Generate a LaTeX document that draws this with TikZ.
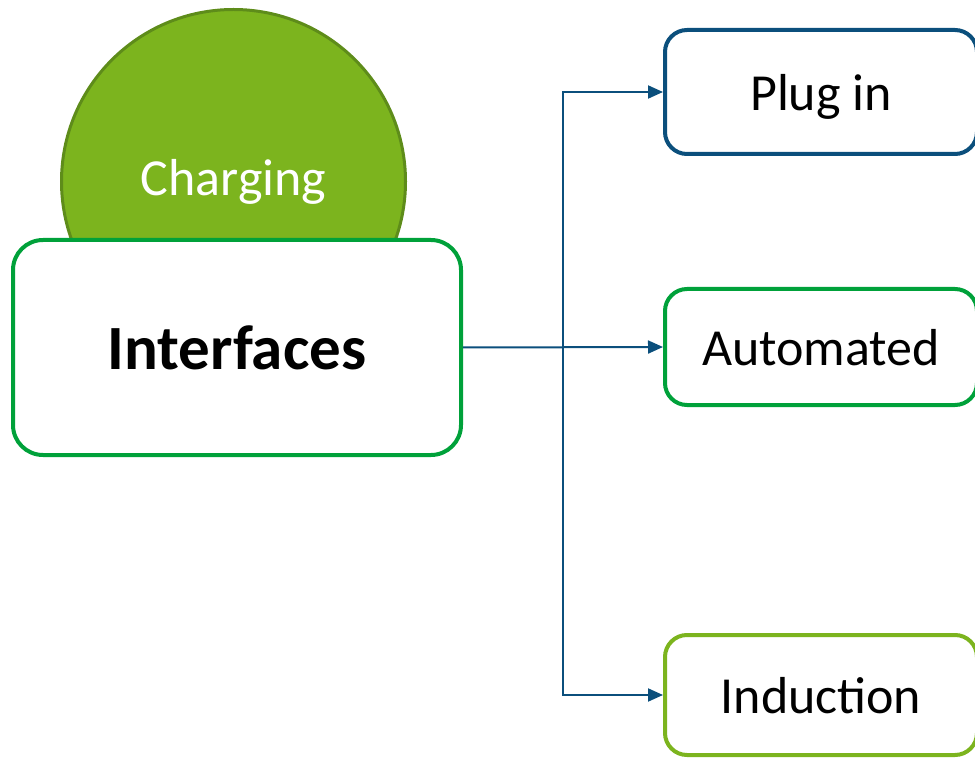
\documentclass[tikz,border=0pt]{standalone}
\usepackage{fontspec}
\setmainfont{Carlito}
\usetikzlibrary{arrows.meta}
\definecolor{darkblue}{HTML}{0B4F7C}
\definecolor{midgreen}{HTML}{00A13A}
\definecolor{lightgreen}{HTML}{7CB41E}
\definecolor{circborder}{HTML}{5E8C1A}
\tikzset{
  box/.style={draw, line width=4pt, fill=white, rounded corners=22pt, inner sep=0pt, minimum width=312pt, text depth=0pt, font=\fontsize{52}{60}\selectfont},
  conn/.style={draw=darkblue, line width=2pt, -{Triangle[length=15pt,width=13pt]}}
}
\begin{document}
\begin{tikzpicture}[x=1pt,y=-1pt]
\useasboundingbox (0,0) rectangle (975,759);
\node[circle, draw=circborder, line width=3pt, fill=lightgreen, minimum size=344pt, inner sep=0pt, text=white, font=\fontsize{52}{60}\selectfont] (chg) at (233.5,181.5) {Charging};
\node[draw=midgreen, line width=4pt, fill=white, rounded corners=30pt, minimum width=448pt, minimum height=215pt, inner sep=0pt, font=\fontsize{63}{70}\selectfont\bfseries] (itf) at (237,347.5) {Interfaces};
\node[box, draw=darkblue, minimum height=124pt] (plug) at (821,92) {Plug in};
\node[box, draw=midgreen, minimum height=116pt] (auto) at (821,347) {Automated};
\node[box, draw=lightgreen, minimum height=120pt] (ind) at (821,695) {Induction};
\coordinate (j) at (563,347);
\draw[conn] (itf.east) -- (auto.west);
\draw[conn] (j) |- (plug.west);
\draw[conn] (j) |- (ind.west);
\end{tikzpicture}
\end{document}
